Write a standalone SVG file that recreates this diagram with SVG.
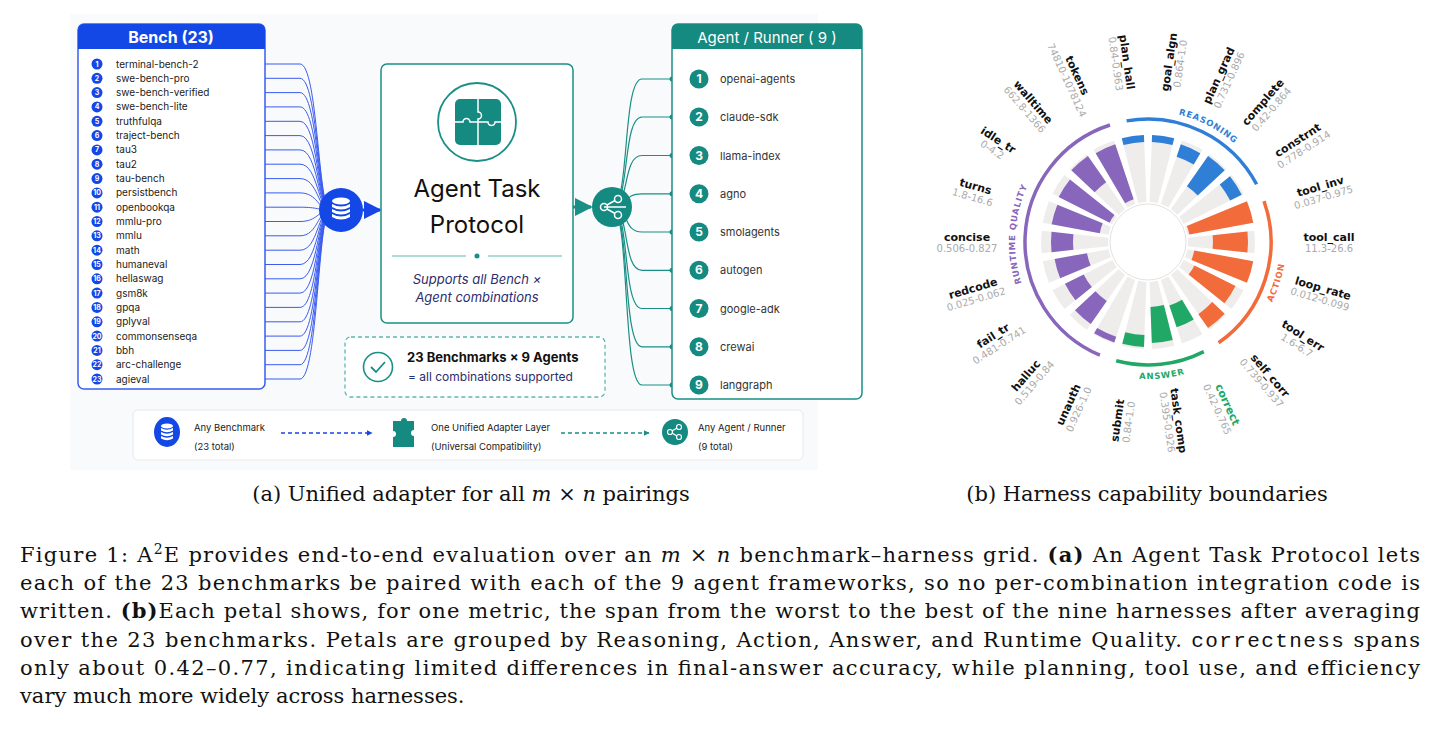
<svg xmlns="http://www.w3.org/2000/svg" xmlns:xlink="http://www.w3.org/1999/xlink" width="1437" height="734" viewBox="0 0 1437 734">
<style>
.sans{font-family:Inter,"Liberation Sans",sans-serif}
.bi{font-size:10px;fill:#222}
.bn{font-size:7px;fill:#fff;font-weight:bold;text-anchor:middle}
.ai{font-size:11px;fill:#333}
.an{font-size:12px;fill:#fff;font-weight:bold;text-anchor:middle}
.bc{fill:none;stroke:#3a5cf0;stroke-width:1}
.tc{fill:none;stroke:#1a8f86;stroke-width:1.2}
.dj{font-family:"DejaVu Sans",sans-serif}
.nm{font-size:11px;font-weight:bold;fill:#111;text-anchor:middle}
.vl{font-size:10px;fill:#aaa;text-anchor:middle}
.gw{fill:#eeedeb}
.lg{font-size:9.5px;fill:#222}
.serif{font-family:"DejaVu Serif","Liberation Serif",serif;font-size:21px;fill:#111}
</style>
<defs>
<path id="gw" d="M-4.18,-39.78 L-11.18,-106.41 A107,107 0 0 1 11.18,-106.41 L4.18,-39.78 A40,40 0 0 0 -4.18,-39.78Z"/>
<path id="pR" d="M1159.4,111.5 A131,131 0 0 1 1248.4,157.8"/>
<path id="pA" d="M1261,321.2 A138,138 0 0 0 1286,242"/>
<path id="pN" d="M1112.5,374.3 A137,137 0 0 0 1210.2,364.1"/>
<path id="pQ" d="M1032.8,308.5 A133,133 0 0 1 1041.8,162"/>
<marker id="ab" viewBox="0 0 10 10" refX="9" refY="5" markerWidth="6" markerHeight="6" orient="auto"><path d="M0,0L10,5L0,10Z" fill="#1745e8"/></marker>
<marker id="at" viewBox="0 0 10 10" refX="9" refY="5" markerWidth="6" markerHeight="6" orient="auto"><path d="M0,0L10,5L0,10Z" fill="#1a8f86"/></marker>
<marker id="ab2" viewBox="0 0 10 10" refX="9" refY="5" markerWidth="4" markerHeight="4" orient="auto"><path d="M0,0L10,5L0,10Z" fill="#1745e8"/></marker>
<marker id="at2" viewBox="0 0 10 10" refX="9" refY="5" markerWidth="4" markerHeight="4" orient="auto"><path d="M0,0L10,5L0,10Z" fill="#1a8f86"/></marker>
</defs>
<rect width="1437" height="734" fill="#fff"/>
<rect x="70" y="14" width="748" height="456" fill="#f9fafb"/>
<rect x="133" y="410" width="670" height="50" rx="5" fill="#fff" stroke="#e6e8ec"/>

<g id="connectors">
<g class="bc">
<path d="M265,64 H300 C318,64 318,210 330,210"/><path d="M265,78.3 H300 C318,78.3 318,210 330,210"/><path d="M265,92.6 H300 C318,92.6 318,210 330,210"/><path d="M265,106.9 H300 C318,106.9 318,210 330,210"/><path d="M265,121.3 H300 C318,121.3 318,210 330,210"/><path d="M265,135.6 H300 C318,135.6 318,210 330,210"/><path d="M265,149.9 H300 C318,149.9 318,210 330,210"/><path d="M265,164.2 H300 C318,164.2 318,210 330,210"/><path d="M265,178.6 H300 C318,178.6 318,210 330,210"/><path d="M265,192.9 H300 C318,192.9 318,210 330,210"/><path d="M265,207.2 H300 C318,207.2 318,210 330,210"/><path d="M265,221.5 H300 C318,221.5 318,210 330,210"/><path d="M265,235.8 H300 C318,235.8 318,210 330,210"/><path d="M265,250.2 H300 C318,250.2 318,210 330,210"/><path d="M265,264.5 H300 C318,264.5 318,210 330,210"/><path d="M265,278.8 H300 C318,278.8 318,210 330,210"/><path d="M265,293.1 H300 C318,293.1 318,210 330,210"/><path d="M265,307.4 H300 C318,307.4 318,210 330,210"/><path d="M265,321.8 H300 C318,321.8 318,210 330,210"/><path d="M265,336.1 H300 C318,336.1 318,210 330,210"/><path d="M265,350.4 H300 C318,350.4 318,210 330,210"/><path d="M265,364.7 H300 C318,364.7 318,210 330,210"/><path d="M265,379 H300 C318,379 318,210 330,210"/>
</g>
<path d="M363,210 H380" stroke="#1745e8" stroke-width="3" marker-end="url(#ab)" fill="none"/>
<path d="M573,207 H591" stroke="#1a8f86" stroke-width="3" marker-end="url(#at)" fill="none"/>
<g class="tc">
<path d="M612,207 C630,207 622,79 642,79 H672"/><path d="M612,207 C630,207 622,117 642,117 H672"/><path d="M612,207 C630,207 622,155.5 642,155.5 H672"/><path d="M612,207 C630,207 622,193.8 642,193.8 H672"/><path d="M612,207 C630,207 622,232 642,232 H672"/><path d="M612,207 C630,207 622,270.3 642,270.3 H672"/><path d="M612,207 C630,207 622,308.5 642,308.5 H672"/><path d="M612,207 C630,207 622,346.8 642,346.8 H672"/><path d="M612,207 C630,207 622,385 642,385 H672"/>
</g>
<g fill="#1a8f86"><circle cx="672" cy="79" r="2.5"/><circle cx="672" cy="117" r="2.5"/><circle cx="672" cy="155.5" r="2.5"/><circle cx="672" cy="193.8" r="2.5"/><circle cx="672" cy="232" r="2.5"/><circle cx="672" cy="270.3" r="2.5"/><circle cx="672" cy="308.5" r="2.5"/><circle cx="672" cy="346.8" r="2.5"/><circle cx="672" cy="385" r="2.5"/></g>
<path d="M281,433 H372" stroke="#1745e8" stroke-width="1.5" stroke-dasharray="4,3" marker-end="url(#ab2)" fill="none"/>
<path d="M561,433 H649" stroke="#1a8f86" stroke-width="1.5" stroke-dasharray="4,3" marker-end="url(#at2)" fill="none"/>
</g>

<g id="bench" class="sans">
<rect x="78" y="24" width="187" height="365" rx="6" fill="#fff" stroke="#3a5cf0" stroke-width="1.5"/>
<path d="M84,24 H259 A6,6 0 0 1 265,30 V49 H78 V30 A6,6 0 0 1 84,24Z" fill="#1448e6"/>
<text x="171" y="43" font-size="16" font-weight="bold" fill="#fff" text-anchor="middle">Bench (23)</text>
<g fill="#1448e6"><circle cx="97" cy="64" r="5.5"/><circle cx="97" cy="78.3" r="5.5"/><circle cx="97" cy="92.6" r="5.5"/><circle cx="97" cy="106.9" r="5.5"/><circle cx="97" cy="121.3" r="5.5"/><circle cx="97" cy="135.6" r="5.5"/><circle cx="97" cy="149.9" r="5.5"/><circle cx="97" cy="164.2" r="5.5"/><circle cx="97" cy="178.6" r="5.5"/><circle cx="97" cy="192.9" r="5.5"/><circle cx="97" cy="207.2" r="5.5"/><circle cx="97" cy="221.5" r="5.5"/><circle cx="97" cy="235.8" r="5.5"/><circle cx="97" cy="250.2" r="5.5"/><circle cx="97" cy="264.5" r="5.5"/><circle cx="97" cy="278.8" r="5.5"/><circle cx="97" cy="293.1" r="5.5"/><circle cx="97" cy="307.4" r="5.5"/><circle cx="97" cy="321.8" r="5.5"/><circle cx="97" cy="336.1" r="5.5"/><circle cx="97" cy="350.4" r="5.5"/><circle cx="97" cy="364.7" r="5.5"/><circle cx="97" cy="379" r="5.5"/></g>
<g class="bn"><text x="97" y="66.5">1</text><text x="97" y="80.8">2</text><text x="97" y="95.1">3</text><text x="97" y="109.4">4</text><text x="97" y="123.8">5</text><text x="97" y="138.1">6</text><text x="97" y="152.4">7</text><text x="97" y="166.7">8</text><text x="97" y="181.1">9</text><text x="97" y="195.4">10</text><text x="97" y="209.7">11</text><text x="97" y="224">12</text><text x="97" y="238.3">13</text><text x="97" y="252.7">14</text><text x="97" y="267">15</text><text x="97" y="281.3">16</text><text x="97" y="295.6">17</text><text x="97" y="309.9">18</text><text x="97" y="324.3">19</text><text x="97" y="338.6">20</text><text x="97" y="352.9">21</text><text x="97" y="367.2">22</text><text x="97" y="381.5">23</text></g>
<g class="bi"><text x="116" y="67.5">terminal-bench-2</text><text x="116" y="81.8">swe-bench-pro</text><text x="116" y="96.1">swe-bench-verified</text><text x="116" y="110.4">swe-bench-lite</text><text x="116" y="124.8">truthfulqa</text><text x="116" y="139.1">traject-bench</text><text x="116" y="153.4">tau3</text><text x="116" y="167.7">tau2</text><text x="116" y="182.1">tau-bench</text><text x="116" y="196.4">persistbench</text><text x="116" y="210.7">openbookqa</text><text x="116" y="225">mmlu-pro</text><text x="116" y="239.3">mmlu</text><text x="116" y="253.7">math</text><text x="116" y="268">humaneval</text><text x="116" y="282.3">hellaswag</text><text x="116" y="296.6">gsm8k</text><text x="116" y="310.9">gpqa</text><text x="116" y="325.3">gplyval</text><text x="116" y="339.6">commonsenseqa</text><text x="116" y="353.9">bbh</text><text x="116" y="368.2">arc-challenge</text><text x="116" y="382.5">agieval</text></g>
</g>

<g id="db-hub">
<circle cx="341" cy="210" r="22" fill="#1448e6"/>
<g fill="#fff"><ellipse cx="341" cy="201" rx="9" ry="3.5"/><path d="M332,204 q9,5 18,0 v3 q-9,5 -18,0z"/><path d="M332,209 q9,5 18,0 v3 q-9,5 -18,0z"/><path d="M332,214 q9,5 18,0 v3 q-9,5 -18,0z"/></g>
</g>

<g id="atp" class="sans">
<rect x="381" y="64" width="192" height="259" rx="6" fill="#fff" stroke="#1a8f86" stroke-width="1.5"/>
<circle cx="477" cy="122" r="39" fill="#fff" stroke="#1a8f86" stroke-width="1.8"/>
<rect x="455" y="99" width="46" height="46" rx="5" fill="#148a80"/>
<g fill="none" stroke="#fff" stroke-width="1.5"><path d="M478,99 V112 a3.5,3.5 0 0 1 0,7 V145"/><path d="M455,122 H463 a3.5,3.5 0 0 1 7,0 H488 a3.5,3.5 0 0 0 7,0 H501"/></g>
<text x="477" y="197" font-size="24" fill="#111" text-anchor="middle">Agent Task</text>
<text x="477" y="233" font-size="24" fill="#111" text-anchor="middle">Protocol</text>
<path d="M392,256 H466 M488,256 H562" stroke="#5fb8b0" stroke-width="1.2"/>
<circle cx="477" cy="256" r="2.5" fill="#1a8f86"/>
<text x="477" y="284" font-size="13" font-style="italic" fill="#2b2d6e" text-anchor="middle">Supports all Bench ×</text>
<text x="477" y="302" font-size="13" font-style="italic" fill="#2b2d6e" text-anchor="middle">Agent combinations</text>
</g>

<g id="share-hub">
<circle cx="612" cy="207" r="20" fill="#148a80"/>
<g stroke="#fff" stroke-width="1.5" fill="none"><circle cx="604" cy="207" r="3.5"/><circle cx="618" cy="199" r="3.5"/><circle cx="618" cy="215" r="3.5"/><path d="M607,205 L615,200.5 M607,209 L615,213.5 M604,207 H626"/></g>
</g>

<g id="agents" class="sans">
<rect x="672" y="24" width="190" height="375" rx="6" fill="#fff" stroke="#1a8f86" stroke-width="1.5"/>
<path d="M678,24 H856 A6,6 0 0 1 862,30 V49 H672 V30 A6,6 0 0 1 678,24Z" fill="#148a80"/>
<text x="767" y="43" font-size="15" fill="#fff" text-anchor="middle">Agent / Runner ( 9 )</text>
<g fill="#148a80"><circle cx="699" cy="79" r="9.5"/><circle cx="699" cy="117" r="9.5"/><circle cx="699" cy="155.5" r="9.5"/><circle cx="699" cy="193.8" r="9.5"/><circle cx="699" cy="232" r="9.5"/><circle cx="699" cy="270.3" r="9.5"/><circle cx="699" cy="308.5" r="9.5"/><circle cx="699" cy="346.8" r="9.5"/><circle cx="699" cy="385" r="9.5"/></g>
<g class="an"><text x="699" y="83">1</text><text x="699" y="121">2</text><text x="699" y="159.5">3</text><text x="699" y="197.8">4</text><text x="699" y="236">5</text><text x="699" y="274.3">6</text><text x="699" y="312.5">7</text><text x="699" y="350.8">8</text><text x="699" y="389">9</text></g>
<g class="ai"><text x="720" y="83">openai-agents</text><text x="720" y="121">claude-sdk</text><text x="720" y="159.5">llama-index</text><text x="720" y="197.8">agno</text><text x="720" y="236">smolagents</text><text x="720" y="274.3">autogen</text><text x="720" y="312.5">google-adk</text><text x="720" y="350.8">crewai</text><text x="720" y="389">langgraph</text></g>
</g>

<g id="summary" class="sans">
<rect x="345" y="337" width="260" height="60" rx="6" fill="#fff" stroke="#5fb8b0" stroke-width="1.3" stroke-dasharray="4,3"/>
<circle cx="378" cy="367" r="14.5" fill="none" stroke="#1a8f86" stroke-width="1.6"/>
<path d="M371,367 l5,5 l9,-10" fill="none" stroke="#1a8f86" stroke-width="1.8"/>
<text x="407" y="362" font-size="13" font-weight="bold" fill="#111">23 Benchmarks × 9 Agents</text>
<text x="408" y="381" font-size="12" fill="#2b2d6e">= all combinations supported</text>
</g>

<g id="legend" class="sans">
<ellipse cx="167" cy="432" rx="13" ry="15" fill="#1448e6"/>
<g fill="#fff"><ellipse cx="167" cy="426" rx="6" ry="2.5"/><path d="M161,428 q6,3.5 12,0 v2.5 q-6,3.5 -12,0z"/><path d="M161,432 q6,3.5 12,0 v2.5 q-6,3.5 -12,0z"/><path d="M161,436 q6,3.5 12,0 v2.5 q-6,3.5 -12,0z"/></g>
<text class="lg" x="194" y="431">Any Benchmark</text>
<text class="lg" x="194" y="450">(23 total)</text>
<path d="M393,421 h8 a3,3 0 0 1 6,0 h7 v9 a3,3 0 0 0 0,6 v11 h-21 v-10 a3,3 0 0 0 0,-6z" fill="#148a80"/>
<text class="lg" x="431" y="431">One Unified Adapter Layer</text>
<text class="lg" x="431" y="450">(Universal Compatibility)</text>
<circle cx="675" cy="432" r="13" fill="#148a80"/>
<g stroke="#fff" stroke-width="1.2" fill="none"><circle cx="670" cy="432" r="2.5"/><circle cx="679" cy="427" r="2.5"/><circle cx="679" cy="437" r="2.5"/><path d="M672,431 L677,428 M672,433 L677,436"/></g>
<text class="lg" x="698" y="431">Any Agent / Runner</text>
<text class="lg" x="698" y="450">(9 total)</text>
</g>

<g id="radial">
<g transform="translate(1148,242)">
<use href="#gw" class="gw" transform="rotate(-8.18)"/><use href="#gw" class="gw" transform="rotate(8.18)"/><use href="#gw" class="gw" transform="rotate(24.55)"/><use href="#gw" class="gw" transform="rotate(40.91)"/><use href="#gw" class="gw" transform="rotate(57.27)"/><use href="#gw" class="gw" transform="rotate(73.64)"/><use href="#gw" class="gw" transform="rotate(90)"/><use href="#gw" class="gw" transform="rotate(106.36)"/><use href="#gw" class="gw" transform="rotate(122.73)"/><use href="#gw" class="gw" transform="rotate(139.09)"/><use href="#gw" class="gw" transform="rotate(155.45)"/><use href="#gw" class="gw" transform="rotate(171.82)"/><use href="#gw" class="gw" transform="rotate(188.18)"/><use href="#gw" class="gw" transform="rotate(204.55)"/><use href="#gw" class="gw" transform="rotate(220.91)"/><use href="#gw" class="gw" transform="rotate(237.27)"/><use href="#gw" class="gw" transform="rotate(253.64)"/><use href="#gw" class="gw" transform="rotate(270)"/><use href="#gw" class="gw" transform="rotate(286.36)"/><use href="#gw" class="gw" transform="rotate(302.73)"/><use href="#gw" class="gw" transform="rotate(319.09)"/><use href="#gw" class="gw" transform="rotate(335.45)"/>
<circle r="38" fill="#fff" stroke="#e2e2e2"/>
<g fill="#2f7fd6">
<path transform="rotate(-8.18)" d="M-10.45,-99.45 L-11.18,-106.41 A107,107 0 0 1 11.18,-106.41 L10.45,-99.45 A100,100 0 0 0 -10.45,-99.45Z"/>
<path transform="rotate(8.18)" d="M-10.45,-99.45 L-11.18,-106.41 A107,107 0 0 1 11.18,-106.41 L10.45,-99.45 A100,100 0 0 0 -10.45,-99.45Z"/>
<path transform="rotate(24.55)" d="M-9.41,-89.51 L-10.77,-102.44 A103,103 0 0 1 10.77,-102.44 L9.41,-89.51 A90,90 0 0 0 -9.41,-89.51Z"/>
<path transform="rotate(40.91)" d="M-7.11,-67.63 L-10.98,-104.42 A105,105 0 0 1 10.98,-104.42 L7.11,-67.63 A68,68 0 0 0 -7.11,-67.63Z"/>
<path transform="rotate(57.27)" d="M-9.62,-91.5 L-10.98,-104.42 A105,105 0 0 1 10.98,-104.42 L9.62,-91.5 A92,92 0 0 0 -9.62,-91.5Z"/>
</g>
<g fill="#f26b3a">
<path transform="rotate(73.64)" d="M-4.39,-41.77 L-11.18,-106.41 A107,107 0 0 1 11.18,-106.41 L4.39,-41.77 A42,42 0 0 0 -4.39,-41.77Z"/>
<path transform="rotate(90)" d="M-6.79,-64.64 L-10.45,-99.45 A100,100 0 0 1 10.45,-99.45 L6.79,-64.64 A65,65 0 0 0 -6.79,-64.64Z"/>
<path transform="rotate(106.36)" d="M-4.91,-46.74 L-11.18,-106.41 A107,107 0 0 1 11.18,-106.41 L4.91,-46.74 A47,47 0 0 0 -4.91,-46.74Z"/>
<path transform="rotate(122.73)" d="M-5.44,-51.72 L-10.24,-97.46 A98,98 0 0 1 10.24,-97.46 L5.44,-51.72 A52,52 0 0 0 -5.44,-51.72Z"/>
<path transform="rotate(139.09)" d="M-9.2,-87.52 L-10.98,-104.42 A105,105 0 0 1 10.98,-104.42 L9.2,-87.52 A88,88 0 0 0 -9.2,-87.52Z"/>
</g>
<g fill="#22a866">
<path transform="rotate(155.45)" d="M-7,-66.63 L-9.41,-89.51 A90,90 0 0 1 9.41,-89.51 L7,-66.63 A67,67 0 0 0 -7,-66.63Z"/>
<path transform="rotate(171.82)" d="M-6.79,-64.64 L-10.56,-100.45 A101,101 0 0 1 10.56,-100.45 L6.79,-64.64 A65,65 0 0 0 -6.79,-64.64Z"/>
<path transform="rotate(188.18)" d="M-9.72,-92.49 L-10.98,-104.42 A105,105 0 0 1 10.98,-104.42 L9.72,-92.49 A93,93 0 0 0 -9.72,-92.49Z"/>
</g>
<g fill="#8866bb">
<path transform="rotate(204.55)" d="M-10.45,-99.45 L-11.08,-105.42 A106,106 0 0 1 11.08,-105.42 L10.45,-99.45 A100,100 0 0 0 -10.45,-99.45Z"/>
<path transform="rotate(220.91)" d="M-7.53,-71.61 L-10.45,-99.45 A100,100 0 0 1 10.45,-99.45 L7.53,-71.61 A72,72 0 0 0 -7.53,-71.61Z"/>
<path transform="rotate(237.27)" d="M-7.53,-71.61 L-9.72,-92.49 A93,93 0 0 1 9.72,-92.49 L7.53,-71.61 A72,72 0 0 0 -7.53,-71.61Z"/>
<path transform="rotate(253.64)" d="M-6.48,-61.66 L-9.93,-94.48 A95,95 0 0 1 9.93,-94.48 L6.48,-61.66 A62,62 0 0 0 -6.48,-61.66Z"/>
<path transform="rotate(270)" d="M-7.84,-74.59 L-10.14,-96.47 A97,97 0 0 1 10.14,-96.47 L7.84,-74.59 A75,75 0 0 0 -7.84,-74.59Z"/>
<path transform="rotate(286.36)" d="M-5.12,-48.73 L-10.24,-97.46 A98,98 0 0 1 10.24,-97.46 L5.12,-48.73 A49,49 0 0 0 -5.12,-48.73Z"/>
<path transform="rotate(302.73)" d="M-4.49,-42.76 L-10.45,-99.45 A100,100 0 0 1 10.45,-99.45 L4.49,-42.76 A43,43 0 0 0 -4.49,-42.76Z"/>
<path transform="rotate(319.09)" d="M-7.63,-72.6 L-10.98,-104.42 A105,105 0 0 1 10.98,-104.42 L7.63,-72.6 A73,73 0 0 0 -7.63,-72.6Z"/>
<path transform="rotate(335.45)" d="M-4.7,-44.75 L-10.77,-102.44 A103,103 0 0 1 10.77,-102.44 L4.7,-44.75 A45,45 0 0 0 -4.7,-44.75Z"/>
</g>
</g>
<g fill="none" stroke-width="3.5">
<path d="M1126.6,120.9 A123,123 0 0 1 1256.6,184.3" stroke="#2f7fd6"/>
<path d="M1264,201.1 A123,123 0 0 1 1218.6,342.8" stroke="#f26b3a"/>
<path d="M1203.8,351.6 A123,123 0 0 1 1116.2,360.8" stroke="#22a866"/>
<path d="M1099.9,355.2 A123,123 0 0 1 1110,125" stroke="#8866bb"/>
</g>
<g class="dj" font-size="8.5" font-weight="bold" letter-spacing="0.8" text-anchor="middle">
<text fill="#2f7fd6"><textPath href="#pR" startOffset="50%">REASONING</textPath></text>
<text fill="#f26b3a"><textPath href="#pA" startOffset="50%">ACTION</textPath></text>
<text fill="#22a866"><textPath href="#pN" startOffset="50%">ANSWER</textPath></text>
<text fill="#8866bb"><textPath href="#pQ" startOffset="50%">RUNTIME QUALITY</textPath></text>
</g>
<g class="dj">
<g transform="translate(1122.2,62.8) rotate(81.82)"><text class="nm" y="-1">plan_hall</text><text class="vl" y="10">0.84-0.963</text></g>
<g transform="translate(1173.8,62.8) rotate(-81.82)"><text class="nm" y="-1">goal_algn</text><text class="vl" y="10">0.864-1.0</text></g>
<g transform="translate(1223.2,77.4) rotate(-65.45)"><text class="nm" y="-1">plan_grad</text><text class="vl" y="10">0.731-0.896</text></g>
<g transform="translate(1266.5,105.2) rotate(-49.09)"><text class="nm" y="-1">complete</text><text class="vl" y="10">0.42-0.864</text></g>
<g transform="translate(1300.3,144.2) rotate(-32.73)"><text class="nm" y="-1">constrnt</text><text class="vl" y="10">0.778-0.914</text></g>
<g transform="translate(1321.7,191) rotate(-16.36)"><text class="nm" y="-1">tool_inv</text><text class="vl" y="10">0.037-0.975</text></g>
<g transform="translate(1329,242)"><text class="nm" y="-1">tool_call</text><text class="vl" y="10">11.3-26.6</text></g>
<g transform="translate(1321.7,293) rotate(16.36)"><text class="nm" y="-1">loop_rate</text><text class="vl" y="10">0.012-0.099</text></g>
<g transform="translate(1300.3,339.8) rotate(32.73)"><text class="nm" y="-1">tool_err</text><text class="vl" y="10">1.6-6.7</text></g>
<g transform="translate(1266.5,378.8) rotate(49.09)"><text class="nm" y="-1">self_corr</text><text class="vl" y="10">0.739-0.937</text></g>
<g transform="translate(1223.2,406.6) rotate(65.45)"><text class="nm" y="-1" style="fill:#22a866">correct</text><text class="vl" y="10">0.42-0.765</text></g>
<g transform="translate(1173.8,421.2) rotate(81.82)"><text class="nm" y="-1">task_comp</text><text class="vl" y="10">0.395-0.926</text></g>
<g transform="translate(1122.2,421.2) rotate(-81.82)"><text class="nm" y="-1">submit</text><text class="vl" y="10">0.84-1.0</text></g>
<g transform="translate(1072.8,406.6) rotate(-65.45)"><text class="nm" y="-1">unauth</text><text class="vl" y="10">0.926-1.0</text></g>
<g transform="translate(1029.5,378.8) rotate(-49.09)"><text class="nm" y="-1">halluc</text><text class="vl" y="10">0.519-0.84</text></g>
<g transform="translate(995.7,339.8) rotate(-32.73)"><text class="nm" y="-1">fail_tr</text><text class="vl" y="10">0.481-0.741</text></g>
<g transform="translate(974.3,293) rotate(-16.36)"><text class="nm" y="-1">redcode</text><text class="vl" y="10">0.025-0.062</text></g>
<g transform="translate(967,242)"><text class="nm" y="-1">concise</text><text class="vl" y="10">0.506-0.827</text></g>
<g transform="translate(974.3,191) rotate(16.36)"><text class="nm" y="-1">turns</text><text class="vl" y="10">1.8-16.6</text></g>
<g transform="translate(995.7,144.2) rotate(32.73)"><text class="nm" y="-1">idle_tr</text><text class="vl" y="10">0-4.2</text></g>
<g transform="translate(1029.5,105.2) rotate(49.09)"><text class="nm" y="-1">walltime</text><text class="vl" y="10">662.8-1366</text></g>
<g transform="translate(1072.8,77.4) rotate(65.45)"><text class="nm" y="-1">tokens</text><text class="vl" y="10">74810-1078124</text></g>
</g>
</g>

<g id="captions" class="serif">
<text x="471" y="501" text-anchor="middle">(a) Unified adapter for all <tspan font-style="italic">m</tspan> × <tspan font-style="italic">n</tspan> pairings</text>
<text x="1147" y="501" text-anchor="middle">(b) Harness capability boundaries</text>
<text x="20" y="562" textLength="1400" lengthAdjust="spacing">Figure 1: A<tspan font-size="14" dy="-8">2</tspan><tspan dy="8">E provides end-to-end evaluation over an </tspan><tspan font-style="italic">m</tspan> × <tspan font-style="italic">n</tspan> benchmark–harness grid. <tspan font-weight="bold">(a)</tspan> An Agent Task Protocol lets</text>
<text x="20" y="590" textLength="1400" lengthAdjust="spacing">each of the 23 benchmarks be paired with each of the 9 agent frameworks, so no per-combination integration code is</text>
<text x="20" y="618" textLength="1400" lengthAdjust="spacing">written. <tspan font-weight="bold">(b)</tspan>Each petal shows, for one metric, the span from the worst to the best of the nine harnesses after averaging</text>
<text x="20" y="647" textLength="1400" lengthAdjust="spacing">over the 23 benchmarks. Petals are grouped by Reasoning, Action, Answer, and Runtime Quality. <tspan font-family="Liberation Mono,monospace">correctness</tspan> spans</text>
<text x="20" y="675" textLength="1400" lengthAdjust="spacing">only about 0.42–0.77, indicating limited differences in final-answer accuracy, while planning, tool use, and efficiency</text>
<text x="20" y="703">vary much more widely across harnesses.</text>
</g>
</svg>
